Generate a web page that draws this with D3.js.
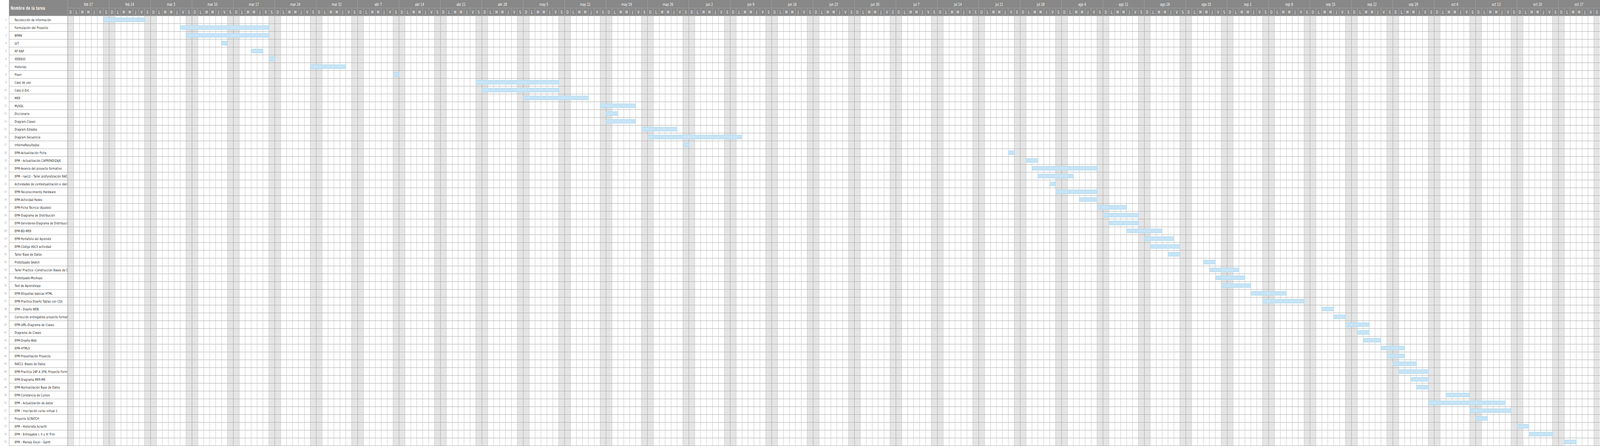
<!DOCTYPE html>
<html>
<head>
<meta charset="utf-8">
<script src="https://cdn.jsdelivr.net/npm/d3@7"></script>
<style>
html, body { margin: 0; padding: 0; background: #fff; overflow: hidden; width: 100%; height: 100%; }
#chart { width: 100vw; height: 100vh; }
svg { display: block; }
</style>
</head>
<body>
<div id="chart"></div>
<script>
// tareas del diagrama de Gantt
const tasks = [
  "Recolección de información", "Formulación del Proyecto", "BPMN", "GIT", "RF-RNF",
  "IEEE830", "Historias", "Pisen", "Caso de uso", "Caso.U.Ext.",
  "MER", "MySQL", "Diccionario", "Diagram.Clases", "Diagram.Estados",
  "Diagram.Secuencia", "InformeResultados", "EPM-Actualización Ficha", "EPM - Actualización CAPRENDIZAJE", "EPM-Avance del proyecto formativo",
  "EPM - rae12 - Taller profundización RAE12", "Actividades de contextualización e identificación", "EPM-Reconocimiento Hardware", "EPM-Actividad Redes", "EPM-Ficha Técnica (Ajustes)",
  "EPM-Diagrama de Distribución", "EPM-Servidores-Diagrama de Distribución", "EPM-BD-MER", "EPM-Portafolio del Aprendiz", "EPM-Código ASCII actividad",
  "Taller Base de Datos", "Prototipado Sketch", "Taller Practico -Construcción Bases de Datos", "Prototipado-Mockups", "Test de Aprendizaje",
  "EPM-Etiquetas básicas HTML", "EPM-Practica Diseño Tablas con CSS", "EPM - Diseño WEB", "Corrección entregables proyecto formativo", "EPM-UML-Diagrama de Clases",
  "Diagrama de Clases", "EPM-Diseño-Web", "EPM-HTML5", "EPM-Presentación Proyecto", "RAE11 -Bases de Datos",
  "EPM-Practica 1NF A 3FN, Proyecto Formativo", "EPM-Diagrama MER-MR", "EPM-Normalización Base de Datos", "EPM-Constancia de Cursos", "EPM - Actualización de datos",
  "EPM - Inscripción curso virtual 1", "Proyecto SCRATCH", "EPM - Historieta Scracth", "EPM - Entregable I, II y III Trim", "EPM - Manejo Excel - Gantt"
];

const startDates = [
  "2019-02-23", "2019-03-08", "2019-03-09", "2019-03-15", "2019-03-20",
  "2019-03-23", "2019-03-30", "2019-04-13", "2019-04-27", "2019-04-28",
  "2019-05-05", "2019-05-18", "2019-05-19", "2019-05-19", "2019-05-25",
  "2019-05-26", "2019-06-01", "2019-07-26", "2019-07-29", "2019-07-30",
  "2019-07-31", "2019-08-02", "2019-08-03", "2019-08-07", "2019-08-10",
  "2019-08-11", "2019-08-12", "2019-08-15", "2019-08-18", "2019-08-19",
  "2019-08-22", "2019-08-28", "2019-08-29", "2019-08-30", "2019-08-31",
  "2019-09-05", "2019-09-07", "2019-09-17", "2019-09-19", "2019-09-21",
  "2019-09-23", "2019-09-24", "2019-09-27", "2019-09-28", "2019-09-29",
  "2019-09-30", "2019-10-02", "2019-10-03", "2019-10-08", "2019-10-05",
  "2019-10-12", "2019-10-13", "2019-10-20", "2019-10-22", "2019-10-28"
];

// duracion en dias
const durations = [
  7, 15, 14, 1, 2,
  1, 6, 1, 14, 13,
  11, 6, 2, 5, 6,
  16, 1, 1, 2, 11,
  6, 1, 7, 3, 5,
  6, 5, 6, 5, 5,
  2, 2, 5, 5, 5,
  6, 7, 2, 2, 4,
  2, 3, 4, 3, 4,
  5, 3, 2, 4, 13,
  7, 2, 2, 4, 2
];

const monthNames = ["ene", "feb", "mar", "abr", "may", "jun", "jul", "ago", "sep", "oct", "nov", "dic"];
const dayLetters = ["D", "L", "M", "M", "J", "V", "S"];
const firstDay = "2019-02-17";
const lastDay = "2019-11-03";

const width = 5680;
const height = 1141;
const numW = 32, nameW = 240, headH = 40, rowH = 20;

const parse = d3.utcParse("%Y-%m-%d");
const days = d3.utcDay.range(parse(firstDay), parse(lastDay));
const weeks = d3.utcSunday.range(parse(firstDay), parse(lastDay));

const x = d3.scaleUtc()
  .domain([parse(firstDay), parse(lastDay)])
  .range([nameW, width - 1]);

const y = d3.scaleBand()
  .domain(d3.range(tasks.length))
  .range([headH, headH + rowH * tasks.length]);

const dayW = x(days[1]) - x(days[0]);

// el svg ocupa toda la ventana
const svg = d3.select("#chart").append("svg")
  .attr("viewBox", `0 0 ${width} ${height}`)
  .attr("preserveAspectRatio", "none")
  .attr("width", "100%")
  .attr("height", "100%");

// columnas de fin de semana
svg.append("g").selectAll("rect")
  .data(days.filter(d => d.getUTCDay() === 0 || d.getUTCDay() === 6))
  .enter().append("rect")
  .attr("x", d => x(d))
  .attr("y", headH)
  .attr("width", dayW)
  .attr("height", height - headH)
  .attr("fill", "#e5e5e5");

// lineas de los dias
svg.append("g").selectAll("line")
  .data(days)
  .enter().append("line")
  .attr("x1", d => x(d) + 0.5)
  .attr("x2", d => x(d) + 0.5)
  .attr("y1", headH)
  .attr("y2", height)
  .attr("stroke", d => d.getUTCDay() === 0 ? "#9c9c9c" : "#bdbdbd")
  .attr("stroke-width", 1);

// lineas de las filas
svg.append("g").selectAll("line")
  .data(d3.range(tasks.length + 1))
  .enter().append("line")
  .attr("x1", numW)
  .attr("x2", width)
  .attr("y1", i => headH + i * rowH + 0.5)
  .attr("y2", i => headH + i * rowH + 0.5)
  .attr("stroke", "#ababab")
  .attr("stroke-width", 1.2);

// barras
svg.append("g").selectAll("rect")
  .data(tasks.map((t, i) => ({ i: i, start: parse(startDates[i]), dur: durations[i] })))
  .enter().append("rect")
  .attr("x", d => x(d.start) + 0.5)
  .attr("y", d => y(d.i) + 5.5)
  .attr("width", d => x(d3.utcDay.offset(d.start, d.dur)) - x(d.start))
  .attr("height", 10)
  .attr("fill", "#c7e4f6")
  .attr("stroke", "#a2d6f1")
  .attr("stroke-width", 1);

// columna de nombres
svg.append("defs").append("clipPath").attr("id", "nameclip")
  .append("rect").attr("x", numW).attr("y", 0).attr("width", nameW - numW - 1).attr("height", height);

const names = svg.append("g").attr("clip-path", "url(#nameclip)");
names.selectAll("text")
  .data(tasks)
  .enter().append("text")
  .attr("x", 52)
  .attr("y", (t, i) => y(i) + 14)
  .attr("font-family", "DejaVu Sans, Verdana, sans-serif")
  .attr("font-size", "8.6px")
  .attr("letter-spacing", "0.45px")
  .attr("fill", "#111")
  .text(t => t);

svg.append("g").selectAll("text")
  .data(tasks)
  .enter().append("text")
  .attr("x", 24)
  .attr("y", (t, i) => y(i) + 13)
  .attr("text-anchor", "end")
  .attr("font-family", "DejaVu Sans, sans-serif")
  .attr("font-size", "7.5px")
  .attr("fill", "#ababab")
  .text((t, i) => i + 1);

svg.append("line")
  .attr("x1", numW + 0.5).attr("x2", numW + 0.5)
  .attr("y1", 0).attr("y2", height)
  .attr("stroke", "#9a9a9a");
svg.append("line")
  .attr("x1", nameW + 0.5).attr("x2", nameW + 0.5)
  .attr("y1", 0).attr("y2", height)
  .attr("stroke", "#8f8f8f");

// cabecera
const head = svg.append("g");
head.append("rect")
  .attr("x", numW).attr("y", 0)
  .attr("width", width - numW).attr("height", headH)
  .attr("fill", "#888888");

head.append("text")
  .attr("x", 38)
  .attr("y", 25)
  .attr("font-family", "Liberation Sans, Arial, sans-serif")
  .attr("font-weight", "bold")
  .attr("font-size", "12px")
  .attr("letter-spacing", "0.8px")
  .attr("fill", "#fff")
  .text("Nombre de la tarea");

head.append("line")
  .attr("x1", nameW).attr("x2", width)
  .attr("y1", 20.5).attr("y2", 20.5)
  .attr("stroke", "#a6a6a6");

head.selectAll(".dsep")
  .data(days)
  .enter().append("line")
  .attr("class", "dsep")
  .attr("x1", d => x(d) + 0.5)
  .attr("x2", d => x(d) + 0.5)
  .attr("y1", d => d.getUTCDay() === 0 ? 0 : 20)
  .attr("y2", headH)
  .attr("stroke", "#a6a6a6");

head.selectAll(".wlab")
  .data(weeks)
  .enter().append("text")
  .attr("class", "wlab")
  .attr("x", d => x(d) + dayW * 3.5)
  .attr("y", 15.5)
  .attr("text-anchor", "middle")
  .attr("font-family", "Liberation Sans Narrow, DejaVu Sans Condensed, sans-serif")
  .attr("font-size", "11px")
  .attr("fill", "#fff")
  .text(d => monthNames[d.getUTCMonth()] + " " + d.getUTCDate());

head.selectAll(".dlab")
  .data(days)
  .enter().append("text")
  .attr("class", "dlab")
  .attr("x", d => x(d) + dayW / 2)
  .attr("y", 35.5)
  .attr("text-anchor", "middle")
  .attr("font-family", "Liberation Sans Narrow, DejaVu Sans Condensed, sans-serif")
  .attr("font-size", "11px")
  .attr("fill", "#fff")
  .text(d => dayLetters[d.getUTCDay()]);
</script>
</body>
</html>
